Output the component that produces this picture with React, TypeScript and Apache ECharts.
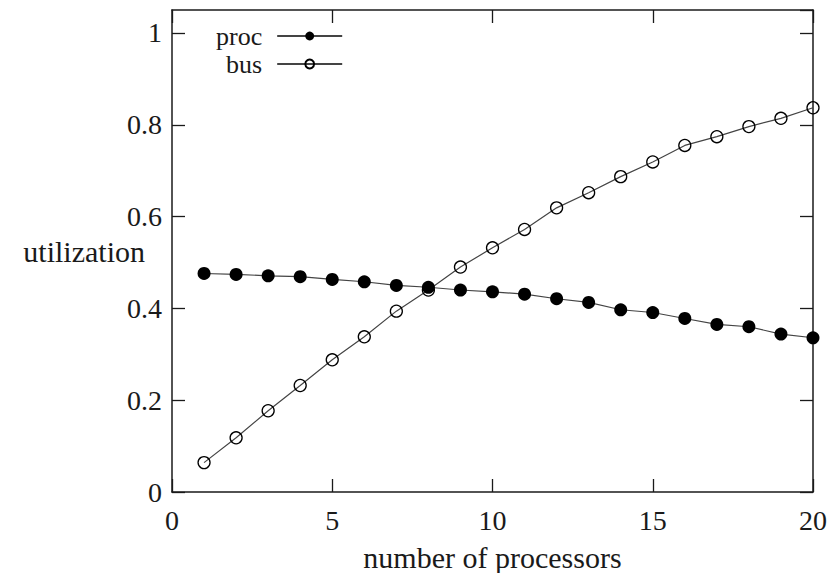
import React, { useEffect, useRef } from "react";
import * as echarts from "echarts";

const processors = [1, 2, 3, 4, 5, 6, 7, 8, 9, 10, 11, 12, 13, 14, 15, 16, 17, 18, 19, 20];
const procUtil = [0.476, 0.474, 0.471, 0.469, 0.463, 0.458, 0.45, 0.446, 0.44, 0.436, 0.431, 0.421, 0.413, 0.397, 0.391, 0.378, 0.365, 0.36, 0.344, 0.336];
const busUtil = [0.064, 0.118, 0.177, 0.232, 0.288, 0.338, 0.394, 0.44, 0.49, 0.532, 0.572, 0.619, 0.652, 0.687, 0.719, 0.755, 0.774, 0.796, 0.814, 0.837];
const seriesNames = ["proc", "bus"];
const xTitle = "number of processors";
const yTitle = "utilization";

const FONT = "Liberation Serif";
const INK = "#1a1a1a";

export default function App() {
  const ref = useRef<HTMLDivElement>(null);
  useEffect(() => {
    if (!ref.current) return;
    const chart = echarts.init(ref.current, undefined, { renderer: "svg" });
    const axisLine = { show: true, onZero: false, lineStyle: { color: INK, width: 1.5 } };
    const tick = { show: true, inside: true, length: 13, lineStyle: { color: INK, width: 1.3 } };
    const labelText = { fontFamily: FONT, fontSize: 28, color: INK };
    const titleText = { fontFamily: FONT, fontSize: 30, color: INK };
    const yFmt = (v: number) => {
      const r = Math.round(v * 10) / 10;
      if (Math.abs(v - r) > 1e-6 || Math.round(v * 10) % 2 !== 0) return "";
      return String(r);
    };
    chart.setOption({
      animation: false,
      backgroundColor: "#fff",
      grid: { left: 172, right: 19, top: 10, bottom: 81, containLabel: false, outerBoundsMode: "none" },
      legend: {
        orient: "vertical",
        align: "right",
        left: 211,
        top: 18,
        padding: 5,
        itemWidth: 65,
        itemHeight: 11,
        itemGap: 2,
        textStyle: { fontFamily: FONT, fontSize: 26, color: INK, lineHeight: 26, padding: [0, 10, 0, 0] },
        data: seriesNames,
      },
      xAxis: [
        {
          type: "value",
          position: "bottom",
          min: 0,
          max: 20,
          interval: 5,
          axisLine,
          axisTick: tick,
          splitLine: { show: false },
          axisLabel: { ...labelText, margin: 14 },
          name: xTitle,
          nameLocation: "middle",
          nameGap: 50,
          nameMoveOverlap: false,
          nameTextStyle: titleText,
        },
        {
          type: "value",
          position: "top",
          min: 0,
          max: 20,
          interval: 5,
          axisLine,
          axisTick: tick,
          splitLine: { show: false },
          axisLabel: { show: false },
        },
      ],
      yAxis: [
        {
          type: "value",
          position: "left",
          min: 0,
          max: 1.05,
          interval: 0.2,
          axisLine,
          axisTick: tick,
          splitLine: { show: false },
          axisLabel: { ...labelText, margin: 10, formatter: yFmt, showMaxLabel: false },
          name: yTitle,
          nameLocation: "middle",
          nameRotate: 0,
          nameGap: 27,
          nameMoveOverlap: false,
          nameTextStyle: titleText,
        },
        {
          type: "value",
          position: "right",
          min: 0,
          max: 1.05,
          interval: 0.2,
          axisLine,
          axisTick: tick,
          splitLine: { show: false },
          axisLabel: { show: false },
        },
      ],
      series: [
        {
          name: seriesNames[0],
          type: "line",
          data: processors.map((x, i) => [x, procUtil[i]]),
          symbol: "circle",
          symbolSize: 13,
          lineStyle: { color: "#444", width: 1.2 },
          itemStyle: { color: "#000", borderColor: "#000", borderWidth: 0 },
          z: 3,
        },
        {
          name: seriesNames[1],
          type: "line",
          data: processors.map((x, i) => [x, busUtil[i]]),
          symbol: "circle",
          symbolSize: 12,
          lineStyle: { color: "#444", width: 1.2 },
          itemStyle: { color: "rgba(255,255,255,0)", borderColor: "#000", borderWidth: 1.3 },
          z: 2,
        },
      ],
    });
    return () => chart.dispose();
  }, []);
  return <div ref={ref} style={{ position: "fixed", left: 0, top: 0, width: 832, height: 573 }} />;
}
